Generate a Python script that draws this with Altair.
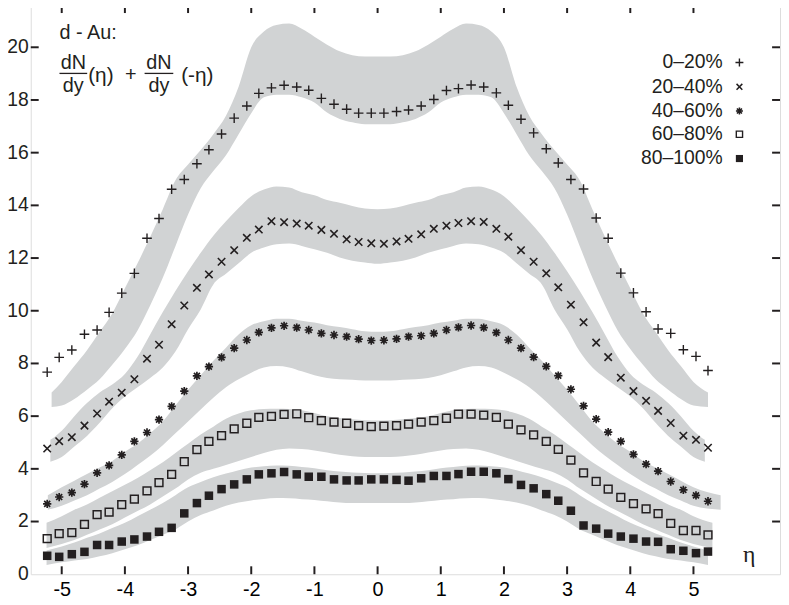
import altair as alt
import pandas as pd

# ---- data -----------------------------------------------------------------
ETA_POS = [0.10, 0.30, 0.49, 0.69, 0.89, 1.09, 1.28, 1.48, 1.68, 1.88, 2.07, 2.27,
           2.47, 2.67, 2.86, 3.06, 3.26, 3.46, 3.65, 3.85, 4.05, 4.25, 4.44, 4.64,
           4.84, 5.04, 5.23]
ETA_NEG = [-e for e in reversed(ETA_POS)]

SERIES = ["0\u201320%", "20\u201340%", "40\u201360%", "60\u201380%", "80\u2013100%"]

# values for eta < 0 (left to right) and eta > 0 (left to right)
C1_NEG = [7.67, 8.23, 8.51, 9.11, 9.27, 9.94, 10.67, 11.42, 12.75, 13.50, 14.61, 14.98,
          15.58, 16.11, 16.71, 17.31, 17.77, 18.25, 18.46, 18.56, 18.49, 18.37, 18.06,
          17.84, 17.65, 17.50, 17.50]
C1_POS = [17.50, 17.56, 17.62, 17.77, 18.02, 18.36, 18.43, 18.57, 18.49, 18.27, 17.80,
          17.27, 16.75, 16.15, 15.61, 14.98, 14.62, 13.52, 12.75, 11.43, 10.68, 9.96,
          9.31, 9.14, 8.52, 8.27, 7.73]
C2_NEG = [4.77, 5.05, 5.20, 5.64, 6.10, 6.55, 6.89, 7.40, 8.18, 8.71, 9.49, 10.20, 10.87,
          11.38, 11.86, 12.30, 12.77, 13.08, 13.40, 13.36, 13.31, 13.23, 13.07, 12.92,
          12.71, 12.61, 12.56]
C2_POS = [12.54, 12.63, 12.73, 12.90, 13.11, 13.23, 13.33, 13.40, 13.37, 13.11, 12.81,
          12.30, 11.86, 11.42, 10.89, 10.23, 9.56, 8.79, 8.24, 7.46, 6.95, 6.58, 6.20,
          5.74, 5.26, 5.10, 4.80]
C3_NEG = [2.67, 2.93, 3.10, 3.42, 3.85, 4.13, 4.53, 5.04, 5.38, 5.87, 6.37, 6.95, 7.53,
          7.88, 8.23, 8.58, 8.89, 9.18, 9.35, 9.43, 9.36, 9.27, 9.14, 9.08, 9.02, 8.92, 8.87]
C3_POS = [8.88, 8.93, 9.02, 9.05, 9.14, 9.27, 9.37, 9.44, 9.36, 9.17, 8.89, 8.58, 8.24,
          7.89, 7.54, 7.02, 6.39, 5.89, 5.39, 5.04, 4.55, 4.18, 3.91, 3.52, 3.20, 2.99, 2.77]
C4_NEG = [1.35, 1.54, 1.58, 1.89, 2.26, 2.36, 2.64, 2.85, 3.16, 3.48, 3.79, 4.27, 4.73,
          5.04, 5.26, 5.52, 5.73, 5.95, 5.99, 6.07, 6.09, 5.94, 5.83, 5.77, 5.73, 5.64, 5.60]
C4_POS = [5.62, 5.64, 5.70, 5.77, 5.83, 5.92, 6.08, 6.08, 6.04, 5.95, 5.70, 5.48, 5.29,
          5.04, 4.74, 4.33, 3.85, 3.52, 3.23, 2.92, 2.68, 2.48, 2.30, 1.93, 1.66, 1.66, 1.49]
C5_NEG = [0.70, 0.66, 0.76, 0.85, 1.11, 1.11, 1.24, 1.32, 1.43, 1.61, 1.76, 2.31, 2.70,
          2.98, 3.23, 3.41, 3.60, 3.79, 3.83, 3.88, 3.79, 3.70, 3.70, 3.60, 3.56, 3.56, 3.60]
C5_POS = [3.60, 3.58, 3.55, 3.64, 3.73, 3.73, 3.80, 3.89, 3.89, 3.83, 3.61, 3.39, 3.26,
          3.04, 2.79, 2.41, 1.85, 1.73, 1.54, 1.43, 1.35, 1.24, 1.23, 0.95, 0.89, 0.80, 0.86]

# grey bands (left half, mirrored to the right); the outer ends are given separately
BAND_ETA = [-5.2, -5.0, -4.8, -4.6, -4.4, -4.2, -4.0, -3.8, -3.6, -3.4, -3.2, -3.0, -2.8,
            -2.6, -2.4, -2.2, -2.0, -1.8, -1.6, -1.4, -1.2, -1.0, -0.8, -0.6, -0.4, -0.2, 0.0]
BAND_END_L = [-5.16, -5.18, -5.22, -5.24, -5.24]
BAND_END_R = [5.23, 5.18, 5.43, 5.30, 5.23]
B1_HI = [6.9, 7.3, 7.9, 8.5, 9.2, 9.9, 10.85, 11.8, 12.8, 13.85, 14.95, 15.55, 16.1, 16.7,
         17.4, 18.5, 20.0, 20.6, 20.85, 20.9, 20.7, 20.4, 20.1, 19.85, 19.7, 19.65, 19.65]
B1_LO = [6.35, 6.4, 6.65, 7.0, 7.4, 7.95, 8.55, 9.25, 10.2, 11.25, 12.45, 13.65, 14.65, 15.3,
         15.9, 16.7, 17.5, 18.1, 18.2, 18.2, 18.1, 17.9, 17.52, 17.28, 17.15, 17.08, 17.08]
B2_HI = [5.1, 5.45, 6.0, 6.5, 6.9, 7.2, 7.6, 8.25, 9.1, 9.95, 10.75, 11.5, 12.2, 12.85,
         13.4, 13.9, 14.35, 14.6, 14.72, 14.68, 14.5, 14.38, 14.2, 14.1, 13.98, 13.88, 13.85]
B2_LO = [4.27, 4.45, 4.85, 5.25, 5.75, 6.3, 6.75, 7.1, 7.45, 7.85, 8.45, 9.3, 10.05, 11.0,
         11.4, 11.8, 12.2, 12.4, 12.52, 12.55, 12.46, 12.33, 12.2, 12.02, 11.9, 11.83, 11.78]
B3_HI = [3.0, 3.3, 3.55, 3.8, 4.05, 4.3, 4.65, 4.95, 5.35, 5.8, 6.4, 7.0, 7.55, 8.1, 8.6,
         9.1, 9.45, 9.6, 9.7, 9.7, 9.62, 9.55, 9.45, 9.38, 9.3, 9.22, 9.2]
B3_LO = [2.45, 2.6, 2.8, 3.0, 3.25, 3.5, 3.8, 4.15, 4.5, 4.9, 5.35, 5.8, 6.25, 6.7, 7.1,
         7.4, 7.65, 7.85, 7.9, 7.85, 7.7, 7.55, 7.45, 7.4, 7.38, 7.35, 7.35]
B4_HI = [1.95, 2.2, 2.45, 2.65, 2.9, 3.15, 3.4, 3.65, 3.95, 4.25, 4.6, 4.95, 5.3, 5.6, 5.9,
         6.1, 6.22, 6.27, 6.28, 6.27, 6.22, 6.12, 6.0, 5.93, 5.88, 5.84, 5.83]
B4_LO = [1.0, 1.15, 1.3, 1.5, 1.7, 1.9, 2.15, 2.4, 2.65, 2.95, 3.25, 3.6, 3.85, 4.0, 4.15,
         4.3, 4.45, 4.6, 4.72, 4.77, 4.75, 4.7, 4.62, 4.53, 4.48, 4.45, 4.45]
B5_HI = [0.9, 1.05, 1.2, 1.38, 1.55, 1.75, 1.95, 2.2, 2.45, 2.7, 3.0, 3.3, 3.5, 3.68, 3.82,
         3.95, 4.05, 4.1, 4.13, 4.12, 4.07, 4.02, 3.95, 3.9, 3.86, 3.84, 3.83]
B5_LO = [0.35, 0.45, 0.52, 0.58, 0.68, 0.8, 0.95, 1.1, 1.3, 1.5, 1.7, 2.0, 2.25, 2.42, 2.6,
         2.72, 2.8, 2.86, 2.89, 2.88, 2.85, 2.82, 2.77, 2.72, 2.7, 2.7, 2.7]

X_TICKS = [-5, -4, -3, -2, -1, 0, 1, 2, 3, 4, 5]
Y_TICKS = [0, 2, 4, 6, 8, 10, 12, 14, 16, 18, 20]

# ---- tables -----------------------------------------------------------------
def mirror(vals):
    return list(vals) + list(reversed(vals[:-1]))


bands = []
for i, (name, hi, lo) in enumerate(zip(SERIES, [B1_HI, B2_HI, B3_HI, B4_HI, B5_HI],
                                       [B1_LO, B2_LO, B3_LO, B4_LO, B5_LO])):
    etas = [BAND_END_L[i]] + BAND_ETA[1:] + [-e for e in reversed(BAND_ETA[1:-1])] + [BAND_END_R[i]]
    for e, h, l in zip(etas, mirror(hi), mirror(lo)):
        bands.append({"series": name, "eta": e, "hi": h, "lo": l})
band_df = pd.DataFrame(bands)

point_sets = {}
for name, neg, pos in zip(SERIES, [C1_NEG, C2_NEG, C3_NEG, C4_NEG, C5_NEG],
                          [C1_POS, C2_POS, C3_POS, C4_POS, C5_POS]):
    point_sets[name] = pd.DataFrame({"eta": ETA_NEG + ETA_POS, "val": neg + pos})

# ---- layout -----------------------------------------------------------------
W, H = 757, 575
XDOM = [-5.49, 6.37]
YDOM = [0, 21.6]
INK = "#231f20"
GREY = "#d1d3d4"
FONT = "Liberation Sans"

xs = alt.Scale(domain=XDOM, nice=False, zero=False)
ys = alt.Scale(domain=YDOM, nice=False, zero=False)
x_axis = alt.Axis(values=X_TICKS, labelExpr="'' + datum.value", title=None, grid=False,
                  domain=False, ticks=False, labelPadding=5, labelFontSize=20)


def X(field="eta"):
    return alt.X(f"{field}:Q", scale=xs, axis=x_axis)


def Y(field="val"):
    return alt.Y(f"{field}:Q", scale=ys, axis=None)


band_layer = alt.Chart(band_df).mark_area(color=GREY, interpolate="monotone", opacity=1).encode(
    x=X(), y=Y("lo"), y2="hi:Q", detail="series:N")

PLUS = "M-1,0L1,0M0,-1L0,1"
CROSS = "M-1,-1L1,1M-1,1L1,-1"
STAR = "M-1,0L1,0M0,-1L0,1M-0.72,-0.72L0.72,0.72M-0.72,0.72L0.72,-0.72"

styles = [
    dict(shape=PLUS, filled=False, size=95, strokeWidth=1.4),
    dict(shape=CROSS, filled=False, size=56, strokeWidth=1.6),
    dict(shape=STAR, filled=False, size=70, strokeWidth=1.7),
    dict(shape="square", filled=False, size=62, strokeWidth=1.5),
    dict(shape="square", filled=True, size=74, strokeWidth=0),
]
legend_styles = [
    dict(shape=PLUS, filled=False, size=64, strokeWidth=1.4),
    dict(shape=CROSS, filled=False, size=34, strokeWidth=1.5),
    dict(shape=STAR, filled=False, size=50, strokeWidth=1.6),
    dict(shape="square", filled=False, size=40, strokeWidth=1.4),
    dict(shape="square", filled=True, size=52, strokeWidth=0),
]

point_layers = []
for name, st in zip(SERIES, styles):
    kw = dict(st)
    if kw["filled"]:
        kw.update(color=INK, opacity=1)
    else:
        kw.update(stroke=INK, opacity=1)
    point_layers.append(alt.Chart(point_sets[name]).mark_point(**kw).encode(x=X(), y=Y()))

# inward ticks on all four sides
yt = pd.DataFrame({"val": Y_TICKS[1:]})
xt = pd.DataFrame({"eta": X_TICKS})
tick_kw = dict(color=INK, strokeWidth=2)
ticks = [
    alt.Chart(yt).mark_rule(**tick_kw).encode(y=Y(), x=alt.value(0), x2=alt.value(8)),
    alt.Chart(yt).mark_rule(**tick_kw).encode(y=Y(), x=alt.value(W - 8), x2=alt.value(W)),
    alt.Chart(xt).mark_rule(**tick_kw).encode(x=X(), y=alt.value(H - 8), y2=alt.value(H)),
    alt.Chart(xt).mark_rule(**tick_kw).encode(x=X(), y=alt.value(0), y2=alt.value(8)),
]

# y tick labels as text (kept inside the page)
ylab = pd.DataFrame({"val": Y_TICKS, "lab": [str(v) for v in Y_TICKS]})
ylabels = alt.Chart(ylab).mark_text(align="right", baseline="middle", fontSize=19.5,
                                    font=FONT, color=INK).encode(
    y=Y(), x=alt.value(-2), text="lab:N")

one = pd.DataFrame({"a": [0]})


def txt(s, x, y, size=20, align="left", font=FONT):
    return alt.Chart(one).mark_text(text=s, align=align, baseline="middle", fontSize=size,
                                    font=font, color=INK).encode(x=alt.value(x), y=alt.value(y))


def hline(x1, x2, y):
    return alt.Chart(one).mark_rule(color=INK, strokeWidth=1.3).encode(
        x=alt.value(x1), x2=alt.value(x2), y=alt.value(y))


annot = [
    txt("d - Au:", 29, 28),
    txt("dN", 43, 59, align="center"),
    hline(29, 57, 69),
    txt("dy", 43, 82, align="center"),
    txt("(\u03b7)", 58, 72, size=21),
    txt("+", 101, 71, align="center"),
    txt("dN", 129.5, 59, align="center"),
    hline(115, 144, 69),
    txt("dy", 129.5, 82, align="center"),
    txt("(-\u03b7)", 152, 72, size=21),
    txt("\u03b7", 726, 556, size=24, align="center", font="Liberation Serif"),
]

LEG_Y = [58, 82.5, 107, 130.5, 155]
legend = []
for name, st, ly in zip(SERIES, legend_styles, LEG_Y):
    legend.append(txt(name, 699, ly, size=19.5, align="right"))
    kw = dict(st)
    if kw["filled"]:
        kw.update(color=INK, opacity=1)
    else:
        kw.update(stroke=INK, opacity=1)
    legend.append(alt.Chart(one).mark_point(**kw).encode(x=alt.value(716), y=alt.value(ly)))

chart = alt.layer(band_layer, *point_layers, *ticks, ylabels, *annot, *legend).properties(
    width=W, height=H,
    autosize=alt.AutoSizeParams(type="none"),
    padding={"left": 23, "top": -6, "right": 1, "bottom": 28},
).configure_view(stroke=INK, strokeWidth=2).configure_axis(
    grid=False, domain=False, ticks=False, tickSize=0, labelFont=FONT, labelColor=INK,
).configure(background="white")

chart.save("out.html", embed_options={"renderer": "svg", "actions": False})
